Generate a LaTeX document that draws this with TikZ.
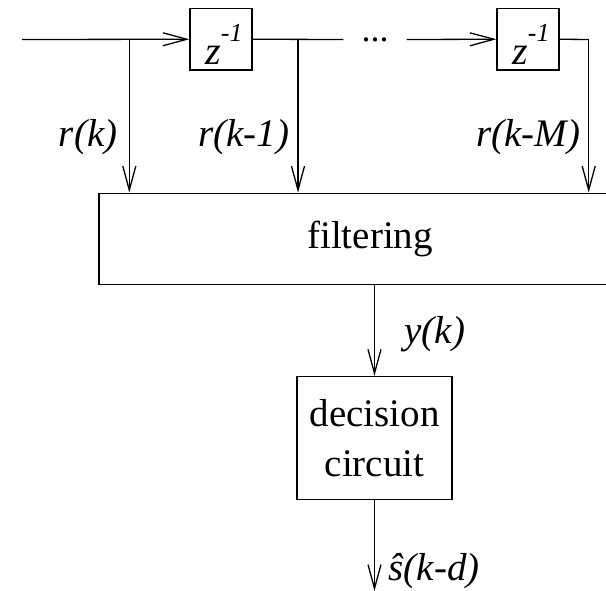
\documentclass[tikz,border=0pt]{standalone}
\usepackage{fontspec}
\setmainfont{Liberation Serif}
\usetikzlibrary{arrows.meta}

\begin{document}
\begin{tikzpicture}[x=1pt,y=-1pt,line width=1.3pt,
	sig/.style={-{Straight Barb[length=24pt,width=13pt]}},
	blk/.style={draw,inner sep=0pt},
	lbl/.style={inner sep=0pt,font=\fontsize{39}{46}\selectfont\itshape},
	txt/.style={font=\fontsize{39}{50}\selectfont},
	dly/.style={blk,minimum width=62pt,minimum height=61.5pt,font=\fontsize{40}{40}\selectfont\itshape}]
	\useasboundingbox (0,0) rectangle (606,591);
	% Delay line
	\coordinate (in) at (22,39.5);
	\node[dly] (z1) at (221,39.25)
		{\hspace*{6pt}\rule{0pt}{50pt}z\raisebox{23pt}{\fontsize{26}{26}\selectfont -1}};
	\node[dly] (z2) at (528,39.25)
		{\hspace*{6pt}\rule{0pt}{50pt}z\raisebox{23pt}{\fontsize{26}{26}\selectfont -1}};
	\node[inner sep=0pt,minimum width=62pt,font=\fontsize{36}{36}\selectfont] (dots) at (375,39.5) {...};
	\coordinate (tap0) at (129.3,39.5);
	\coordinate (tap1) at (298,39.5);
	\coordinate (tapM) at (588.7,39.5);
	% Blocks
	\node[blk,txt,minimum width=542pt,minimum height=91.5pt] (filter) at (370,239) {filtering};
	\node[blk,txt,align=center,minimum width=155pt,minimum height=123pt] (decide) at (374.5,438) {decision\\circuit};
	\coordinate (out) at (374.5,591);
	% Connections
	\draw[sig] (in) -- (z1.west);
	\draw (z1.east) -- (dots.west);
	\draw[sig] (dots.east) -- (z2.west);
	\draw (z2.east) -- (tapM);
	\draw[sig] (tap0) -- (tap0 |- filter.north);
	\draw[sig] (tap1) -- (tap1 |- filter.north);
	\draw[sig] (tapM) -- (tapM |- filter.north);
	\draw[sig] (filter.south -| decide.north) -- (decide.north);
	\draw[sig] (decide.south) -- (out);
	% Labels
	\node[lbl,anchor=base east] (rk) at (118,147) {r(k)};
	\node[lbl,anchor=base east] (rk1) at (290,147) {r(k-1)};
	\node[lbl,anchor=base east] (rkM) at (581,147) {r(k-M)};
	\node[lbl,anchor=base west] (yk) at (404,343) {y(k)};
	\node[lbl,anchor=base west] (shat) at (388,580) {\^{s}(k-d)};
\end{tikzpicture}
\end{document}
